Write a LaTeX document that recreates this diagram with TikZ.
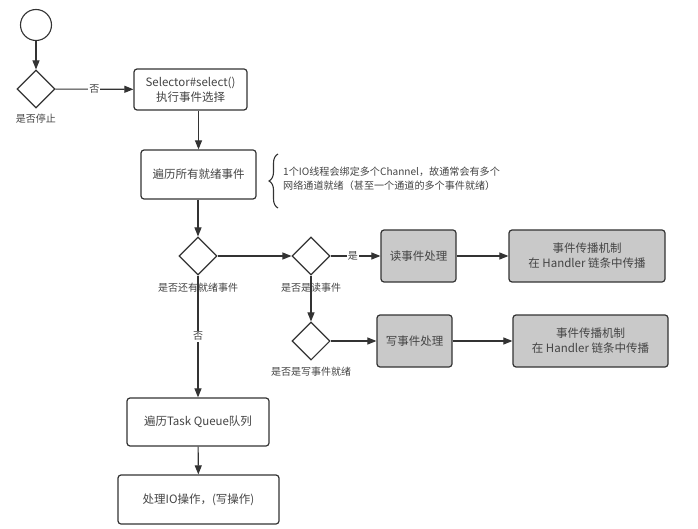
\documentclass[tikz,border=0pt]{standalone}
\usepackage{fontspec}
\setmainfont{Noto Sans CJK SC}
\usetikzlibrary{arrows.meta,shapes.geometric,decorations.pathreplacing}
\definecolor{ln}{HTML}{333333}
\definecolor{tx}{HTML}{444444}
\definecolor{gbox}{HTML}{C9C9C9}
\begin{document}
\begin{tikzpicture}[x=1pt,y=-1pt,
  every node/.style={text=tx},
  flow/.style={draw=ln,line width=1.1pt,-{Triangle[length=9pt,width=7pt]}},
  pbox/.style={draw=ln,line width=1.2pt,rounded corners=3pt,fill=white,align=center,font=\fontsize{11.5}{15}\selectfont,inner sep=0pt},
  gboxs/.style={pbox,fill=gbox},
  dec/.style={diamond,draw=ln,line width=1.1pt,minimum width=38pt,minimum height=38pt,inner sep=0pt,fill=white},
  lbl/.style={font=\fontsize{10}{12}\selectfont},
  elbl/.style={font=\fontsize{10}{12}\selectfont,fill=white,inner sep=1pt}]
\path[use as bounding box] (0,0) rectangle (698,529);
\node[circle,draw=ln,line width=1.1pt,minimum size=31pt,inner sep=0pt] (start) at (36,25) {};
\node[dec] (d1) at (36,89) {};
\node[lbl] (d1l) at (36,119) {是否停止};
\node[pbox,minimum width=113pt,minimum height=41pt] (sel) at (190.5,89.5) {Selector\#select()\\执行事件选择};
\node[pbox,minimum width=115pt,minimum height=49pt] (all) at (198.5,174.5) {遍历所有就绪事件};
\draw[ln,line width=1.1pt,decorate,decoration={brace,amplitude=9pt}] (278,208) -- (278,154);
\node[anchor=west,align=left,font=\fontsize{10.1}{13.5}\selectfont,inner sep=0pt] (note) at (283,178.5) {1个IO线程会绑定多个Channel，故通常会有多个\\网络通道就绪（甚至一个通道的多个事件就绪）};
\node[dec] (d2) at (198,256) {};
\node[lbl] (d2l) at (198,288) {是否还有就绪事件};
\node[dec] (d3) at (311,256) {};
\node[lbl] (d3l) at (311,288) {是否是读事件};
\node[dec] (d4) at (311,341) {};
\node[lbl] (d4l) at (311,372) {是否是写事件就绪};
\node[gboxs,minimum width=75pt,minimum height=52pt] (rd) at (418.5,256) {读事件处理};
\node[gboxs,minimum width=156pt,minimum height=52pt] (rp) at (587,256) {事件传播机制\\在 Handler 链条中传播};
\node[gboxs,minimum width=75pt,minimum height=52pt] (wr) at (414.5,341) {写事件处理};
\node[gboxs,minimum width=155pt,minimum height=52pt] (wp) at (590.5,341) {事件传播机制\\在 Handler 链条中传播};
\node[pbox,minimum width=142pt,minimum height=48pt] (tq) at (198,422) {遍历Task Queue队列};
\node[pbox,minimum width=161pt,minimum height=49pt] (io) at (198.5,499.5) {处理IO操作，(写操作)};
\draw[flow] (start) -- (d1);
\draw[flow] (d1) -- node[elbl] {否} (sel);
\draw[flow] (sel.south -| all.north) -- (all);
\draw[flow] (all.south -| d2.north) -- (d2);
\draw[flow] (d2) -- (d3);
\draw[flow] (d3) -- node[elbl,pos=0.45] {是} (rd);
\draw[flow] (rd) -- (rp);
\draw[flow] (d3) -- (d4);
\draw[flow] (d4) -- (wr);
\draw[flow] (wr) -- (wp);
\draw[flow] (d2.south) -- node[elbl,pos=0.5] {否} (d2.south |- tq.north);
\draw[flow] (tq) -- (io);
\end{tikzpicture}
\end{document}
